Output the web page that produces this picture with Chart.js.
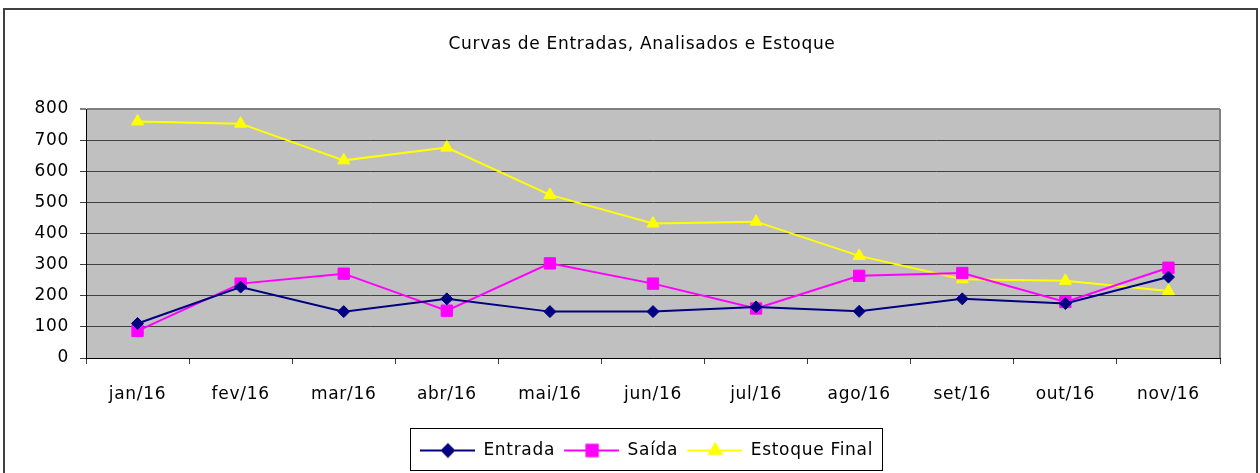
<!DOCTYPE html>
<html lang="pt">
<head>
  <meta charset="UTF-8">
  <title>Curvas de Entradas, Analisados e Estoque</title>
  <script src="https://cdn.jsdelivr.net/npm/chart.js"></script>
  <style>
    body {
      margin: 0;
      padding: 0;
      background: #fff;
      overflow: hidden;
    }
    .moldura {
      position: absolute;
      left: 3px;
      top: 8px;
      width: 1251px;
      height: 480px;
      border: 2px solid #404040;
    }
    #grafico {
      position: absolute;
      left: 0;
      top: 0;
    }
  </style>
</head>
<body>
  <div class="moldura"></div>
  <canvas id="grafico" width="1260" height="473"></canvas>

  <script>
    // dados
    const meses = ['jan/16', 'fev/16', 'mar/16', 'abr/16', 'mai/16', 'jun/16', 'jul/16', 'ago/16', 'set/16', 'out/16', 'nov/16'];
    const entrada = [111, 228, 149, 190, 149, 149, 164, 150, 190, 175, 260];
    const saida = [87, 239, 271, 152, 304, 239, 159, 264, 273, 180, 290];
    const estoque = [760, 753, 635, 676, 524, 432, 438, 328, 253, 248, 215];
    const eixoY = { min: 0, max: 800, passo: 100 };

    const fonte = "'DejaVu Sans', sans-serif";
    const espacamento = '0.7px';

    // ícone da legenda: linha com o marcador no meio
    function iconeLegenda(cor, estilo, raio) {
      const c = document.createElement('canvas');
      c.width = 58;
      c.height = 18;
      const g = c.getContext('2d');
      g.strokeStyle = cor;
      g.lineWidth = 2;
      g.beginPath();
      g.moveTo(3, 9);
      g.lineTo(58, 9);
      g.stroke();
      g.fillStyle = cor;
      Chart.helpers.drawPoint(g, { pointStyle: estilo, radius: raio, borderWidth: 1 }, 31, 9);
      g.fill();
      return c;
    }

    const series = [
      { label: 'Entrada', data: entrada, cor: '#000080', estilo: 'rectRot', raio: 6 },
      { label: 'Saída', data: saida, cor: '#FF00FF', estilo: 'rect', raio: 8 },
      { label: 'Estoque Final', data: estoque, cor: '#FFFF00', estilo: 'triangle', raio: 7 }
    ];
    const icones = series.map(s => iconeLegenda(s.cor, s.estilo, s.raio));

    // texto um pouco espaçado, como no original
    const espacoLetras = {
      id: 'espacoLetras',
      beforeUpdate(chart) { chart.ctx.letterSpacing = espacamento; },
      beforeDraw(chart) { chart.ctx.letterSpacing = espacamento; }
    };

    // título e legenda centrados um pouco à direita, como no Excel
    const centrar = {
      id: 'centrar',
      afterLayout(chart) {
        const t = chart.titleBlock;
        t.left += 64;
        t.width = t.right - t.left;
        const l = chart.legend;
        l.left += 70;
        l.width = l.right - l.left;
      }
    };

    // fundo cinza e moldura da área de plotagem, caixa da legenda
    const molduras = {
      id: 'molduras',
      beforeDraw(chart) {
        const a = chart.chartArea;
        const ctx = chart.ctx;
        ctx.save();
        ctx.fillStyle = '#C0C0C0';
        ctx.fillRect(a.left, a.top, a.right - a.left, a.bottom - a.top);
        ctx.restore();
      },
      beforeDatasetsDraw(chart) {
        const a = chart.chartArea;
        const ctx = chart.ctx;
        ctx.save();
        ctx.strokeStyle = '#808080';
        ctx.lineWidth = 2;
        ctx.beginPath();
        ctx.moveTo(a.right, a.top);
        ctx.lineTo(a.right, a.bottom);
        ctx.stroke();
        ctx.restore();
      },
      afterDraw(chart) {
        const caixas = chart.legend.legendHitBoxes;
        if (!caixas || !caixas.length) return;
        const esq = Math.min(...caixas.map(b => b.left)) - 7;
        const dir = Math.max(...caixas.map(b => b.left + b.width)) + 9;
        const meio = caixas[0].top + caixas[0].height / 2;
        const ctx = chart.ctx;
        ctx.save();
        ctx.strokeStyle = '#000';
        ctx.lineWidth = 1;
        ctx.strokeRect(Math.round(esq) + 0.5, Math.round(meio - 23) + 0.5, Math.round(dir - esq), 42);
        ctx.restore();
      }
    };

    new Chart(document.getElementById('grafico').getContext('2d'), {
      type: 'line',
      data: {
        labels: meses,
        datasets: series.map(s => ({
          label: s.label,
          data: s.data,
          borderColor: s.cor,
          backgroundColor: s.cor,
          borderWidth: 2,
          pointStyle: s.estilo,
          pointRadius: s.raio,
          pointBorderWidth: 1,
          pointBackgroundColor: s.cor,
          pointBorderColor: s.cor,
          tension: 0,
          fill: false
        }))
      },
      options: {
        responsive: false,
        animation: false,
        layout: { padding: { left: 0, right: 40, top: 0, bottom: 4 } },
        plugins: {
          title: {
            display: true,
            text: 'Curvas de Entradas, Analisados e Estoque',
            color: '#000',
            font: { family: fonte, size: 17, weight: 'normal' },
            padding: { top: 34, bottom: 54.6 }
          },
          legend: {
            position: 'bottom',
            labels: {
              color: '#000',
              font: { family: fonte, size: 17 },
              usePointStyle: true,
              pointStyleWidth: 58,
              padding: 6,
              generateLabels(chart) {
                const itens = Chart.defaults.plugins.legend.labels.generateLabels(chart);
                itens.forEach((it, i) => { it.pointStyle = icones[i]; });
                return itens;
              }
            }
          },
          tooltip: { enabled: false }
        },
        scales: {
          x: {
            offset: true,
            grid: {
              offset: true,
              drawOnChartArea: false,
              tickLength: 6,
              color: '#404040'
            },
            border: { color: '#000', width: 1 },
            ticks: {
              color: '#000',
              font: { family: fonte, size: 17 },
              padding: 20,
              maxRotation: 0
            },
            afterFit(scale) { scale.height = 78; }
          },
          y: {
            min: eixoY.min,
            max: eixoY.max,
            grid: {
              tickLength: 6,
              color: ctx => ctx.tick && ctx.tick.value === eixoY.max ? '#808080' : '#404040',
              lineWidth: ctx => ctx.tick && ctx.tick.value === eixoY.max ? 2 : 1
            },
            border: { color: '#000', width: 1 },
            ticks: {
              stepSize: eixoY.passo,
              color: '#000',
              font: { family: fonte, size: 17 },
              padding: 11
            },
            afterFit(scale) { scale.width = 86; }
          }
        }
      },
      plugins: [espacoLetras, centrar, molduras]
    });
  </script>
</body>
</html>
